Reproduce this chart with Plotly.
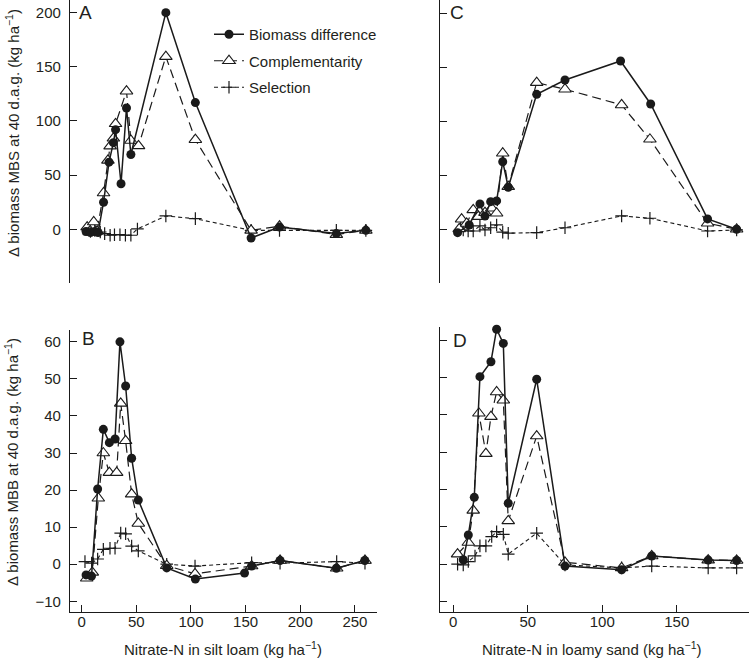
import plotly.graph_objects as go

# ---------------- data ----------------
# Panel A: silt loam, MBS
A_bio_x = [4, 8, 12, 15, 20, 25, 29, 31, 36, 41, 45, 77, 104, 155, 181, 233, 260]
A_bio_y = [-2, -3, -2, -3, 25, 62, 80, 92, 42, 112, 69, 200, 117, -8, 2, -4, -1]
A_comp_x = [5, 7, 11, 14, 20, 24, 26, 29, 31, 41, 45, 52, 77, 104, 155, 181, 233, 260]
A_comp_y = [2, -2.5, 6.7, -2, 33.5, 63.6, 76.8, 84, 97.4, 127.5, 82, 77, 159.4, 82.7, -1, 2.8, -4.9, -1]
A_sel_x = [5, 8, 12, 17, 21, 26, 30, 35, 40, 45, 51, 77, 104, 155, 181, 233, 260]
A_sel_y = [0, -2, -1, -2.5, -4, -5.5, -5, -5, -5.5, -5.5, 0.3, 12.3, 9.8, -1, -1, -1, -1]

# Panel B: silt loam, MBB
B_bio_x = [4, 9, 14.6, 19.8, 25.3, 30.5, 35, 40.2, 45.7, 51.8, 77.8, 104, 149, 155.5, 181.5, 233, 259]
B_bio_y = [-2.9, -3.2, 20.3, 36.4, 32.8, 33.8, 60, 48.1, 28.6, 17.3, -1, -4, -2.4, -0.5, 1, -1.1, 1]
B_comp_x = [4.6, 9.7, 15.2, 19.8, 25.3, 32, 35.7, 40.2, 45.7, 51.8, 77.8, 103.7, 155.5, 181.5, 233.3, 259.2]
B_comp_y = [-3.8, -2.2, 17.8, 30, 24.7, 24.7, 43.4, 33.3, 18.9, 11, -0.4, -2.6, -0.5, 1, -1.1, 1]
B_sel_x = [3, 9.1, 14.6, 19.8, 25.9, 30.5, 35.7, 40.2, 45.7, 51.8, 77.8, 103.7, 155.5, 181.5, 233.3, 259.2]
B_sel_y = [0.7, 0.3, 1.4, 4, 4.3, 4.3, 8.4, 8.2, 4.9, 3.6, 0, -0.5, 0.4, 0.3, 0.7, 0.3]

# Panel C: loamy sand, MBS
C_bio_x = [2.9, 10.7, 17.9, 21.3, 25.1, 29.1, 33.2, 36.9, 56, 75, 112.3, 132.5, 170.7, 190.2]
C_bio_y = [-2.5, 4.6, 24, 12.9, 26.1, 26.8, 63, 39.4, 125.2, 138.4, 156, 116.3, 10.2, 0.6]
C_comp_x = [4, 5.6, 9, 13.4, 16.8, 21.3, 25.8, 29.1, 33.2, 36.9, 56, 75, 113, 132, 170.7, 190.2]
C_comp_y = [1, 9.9, 6, 18.5, 12.3, 16, 20, 15.4, 70.8, 40, 136, 129.9, 115.4, 83.7, 6.2, 0.6]
C_sel_x = [6.7, 10, 13.4, 17.9, 21.3, 25.1, 29.1, 33.2, 36.9, 56, 75, 113, 132, 170.7, 190.2]
C_sel_y = [0, -1, -1, 3.7, 0, 2, 4.6, -2, -3, -2.5, 2, 12.9, 10.8, -1, 0]

# Panel D: loamy sand, MBB
D_bio_x = [6.7, 10.1, 14.1, 17.9, 25.3, 29.1, 33.6, 36.9, 56, 75, 113, 133.2, 171.1, 190.2]
D_bio_y = [1.2, 7.8, 17.9, 50.2, 54.2, 62.9, 59.1, 16.3, 49.5, -0.5, -1.5, 2.2, 1.1, 1]
D_comp_x = [2.9, 10.1, 13.4, 17.2, 21.9, 25.3, 29.1, 33.6, 36.9, 56, 75, 113, 133.2, 171.1, 190.2]
D_comp_y = [2.7, 5.8, 14.4, 40.4, 29.6, 39.5, 46.1, 43.9, 11.6, 34.3, 0.5, -1, 2.2, 1.1, 1]
D_sel_x = [2.9, 6.7, 10.1, 14.6, 17.9, 21.9, 25.8, 29.1, 33.6, 36.9, 56, 75, 113, 133.2, 171.1, 190.2]
D_sel_y = [0, -0.2, 0.7, 2.2, 4.9, 4.9, 7.4, 8.7, 8, 2.7, 8.3, -0.2, -1, -0.5, -1, -1]

series_names = ["Biomass difference", "Complementarity", "Selection"]
silt_ticks = [0, 50, 100, 150, 200, 250]
sand_ticks = [0, 50, 100, 150]
mbs_ticks = [0, 50, 100, 150, 200]
mbb_ticks = [-10, 0, 10, 20, 30, 40, 50, 60]

# ---------------- style ----------------
W, H = 749, 660
FONT = "Liberation Sans, Arial, Helvetica, sans-serif"
TXT = "#231f20"
INK = "#1a1a1a"

fig = go.Figure()

panels = [
    ("x", "y", A_bio_x, A_bio_y, A_comp_x, A_comp_y, A_sel_x, A_sel_y, True),
    ("x2", "y2", B_bio_x, B_bio_y, B_comp_x, B_comp_y, B_sel_x, B_sel_y, False),
    ("x3", "y3", C_bio_x, C_bio_y, C_comp_x, C_comp_y, C_sel_x, C_sel_y, False),
    ("x4", "y4", D_bio_x, D_bio_y, D_comp_x, D_comp_y, D_sel_x, D_sel_y, False),
]

for xa, ya, bx, by, cx, cy, sx, sy, show in panels:
    fig.add_trace(go.Scatter(
        x=sx, y=sy, xaxis=xa, yaxis=ya, mode="lines+markers", name=series_names[2],
        legendgroup="sel", legendrank=3, showlegend=show, cliponaxis=False,
        line=dict(color=INK, width=1.1, dash="4px,3px"),
        marker=dict(symbol="cross-thin", size=9, line=dict(color=INK, width=1.2)),
    ))
    fig.add_trace(go.Scatter(
        x=cx, y=cy, xaxis=xa, yaxis=ya, mode="lines+markers", name=series_names[1],
        legendgroup="comp", legendrank=2, showlegend=show, cliponaxis=False,
        line=dict(color=INK, width=1.2, dash="9px,5px"),
        marker=dict(symbol="triangle-up", size=11, color="white", line=dict(color=INK, width=1.1)),
    ))
    fig.add_trace(go.Scatter(
        x=bx, y=by, xaxis=xa, yaxis=ya, mode="lines+markers", name=series_names[0],
        legendgroup="bio", legendrank=1, showlegend=show, cliponaxis=False,
        line=dict(color=INK, width=1.5),
        marker=dict(symbol="circle", size=9, color=INK),
    ))

left_dom = [70 / W, 377 / W]
right_dom = [440 / W, 1.0]
top_dom = [1 - 283 / H, 1.0]
bot_dom = [1 - 612 / H, 1 - 330 / H]
bot_dom_d = [1 - 612 / H, 1 - 327 / H]

axis_common = dict(showline=True, linecolor=INK, linewidth=1.3, ticks="inside", ticklen=7,
                   tickcolor=INK, tickwidth=1.3, showgrid=False, zeroline=False,
                   tickfont=dict(family=FONT, size=15, color=TXT), automargin=False)

fig.update_layout(
    width=W, height=H, margin=dict(l=0, r=0, t=0, b=0),
    paper_bgcolor="white", plot_bgcolor="white",
    font=dict(family=FONT, size=15, color=TXT),
    xaxis=dict(domain=left_dom, range=[-10.7, 270.2], anchor="y", visible=False),
    yaxis=dict(domain=top_dom, range=[-49.6, 211.7], anchor="x", tickvals=mbs_ticks,
               ticklabelstandoff=5, **axis_common),
    xaxis2=dict(domain=left_dom, range=[-10.7, 270.2], anchor="y2", tickvals=silt_ticks,
                ticklabelstandoff=-4, **axis_common),
    yaxis2=dict(domain=bot_dom, range=[-12.9, 63.2], anchor="x2", tickvals=mbb_ticks,
                ticklabelstandoff=5, **axis_common),
    xaxis3=dict(domain=right_dom, range=[-8.9, 198.5], anchor="y3", visible=False),
    yaxis3=dict(domain=top_dom, range=[-49.0, 212.3], anchor="x3", tickvals=mbs_ticks,
                showticklabels=False, **axis_common),
    xaxis4=dict(domain=right_dom, range=[-8.9, 198.5], anchor="y4", tickvals=sand_ticks,
                ticklabelstandoff=-4, **axis_common),
    yaxis4=dict(domain=bot_dom_d, range=[-12.8, 63.5], anchor="x4", tickvals=mbb_ticks,
                showticklabels=False, **axis_common),
    showlegend=True,
    legend=dict(x=209 / W, y=1 - 18 / H, xanchor="left", yanchor="top",
                bgcolor="rgba(0,0,0,0)", tracegroupgap=4,
                font=dict(family=FONT, size=15, color=TXT)),
)

ann = [
    dict(text="A", x=85 / W, y=1 - 13 / H),
    dict(text="B", x=88 / W, y=1 - 338 / H),
    dict(text="C", x=457 / W, y=1 - 13 / H),
    dict(text="D", x=460 / W, y=1 - 340 / H),
]
for a in ann:
    fig.add_annotation(xref="paper", yref="paper", showarrow=False, xanchor="center", yanchor="middle",
                       font=dict(family=FONT, size=19, color=TXT), **a)

fig.add_annotation(xref="paper", yref="paper", x=12 / W, y=1 - 133 / H, textangle=-90, showarrow=False,
                   xanchor="center", yanchor="middle",
                   text="Δ biomass MBS at 40 d.a.g. (kg ha<sup>−1</sup>)",
                   font=dict(family=FONT, size=15, color=TXT))
fig.add_annotation(xref="paper", yref="paper", x=12 / W, y=1 - 462 / H, textangle=-90, showarrow=False,
                   xanchor="center", yanchor="middle",
                   text="Δ biomass MBB at 40 d.a.g. (kg ha<sup>−1</sup>)",
                   font=dict(family=FONT, size=15, color=TXT))
fig.add_annotation(xref="paper", yref="paper", x=223 / W, y=1 - 648 / H, showarrow=False,
                   xanchor="center", yanchor="middle",
                   text="Nitrate-N in silt loam (kg ha<sup>−1</sup>)",
                   font=dict(family=FONT, size=15, color=TXT))
fig.add_annotation(xref="paper", yref="paper", x=592 / W, y=1 - 648 / H, showarrow=False,
                   xanchor="center", yanchor="middle",
                   text="Nitrate-N in loamy sand (kg ha<sup>−1</sup>)",
                   font=dict(family=FONT, size=15, color=TXT))

fig.write_html("out.html", config={"displayModeBar": False},
               post_script="document.body.style.margin='0px';document.body.style.overflow='hidden';")
